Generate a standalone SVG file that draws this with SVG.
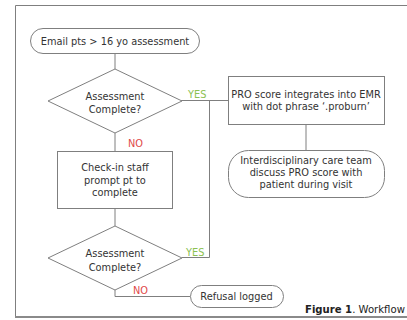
<svg xmlns="http://www.w3.org/2000/svg" width="407" height="320" viewBox="0 0 407 320">
<style>
.s{fill:#fff;stroke:#7f7f7f;stroke-width:1}
.c{fill:none;stroke:#7f7f7f;stroke-width:1}
.t{font-family:"DejaVu Sans",sans-serif;font-size:9.8px;fill:#333;text-anchor:middle}
.y{font-family:"DejaVu Sans",sans-serif;font-size:9.8px;fill:#8cc152}
.n{font-family:"DejaVu Sans",sans-serif;font-size:9.8px;fill:#e04848}
</style>
<rect x="0" y="0" width="407" height="320" fill="#fff"/>
<g id="frame">
<path d="M15.5 317 V5.5 H407" class="c"/>
<line x1="15" y1="317" x2="407" y2="317" stroke="#8a8a8a" stroke-width="2"/>
</g>
<g id="connectors">
<line x1="115" y1="53" x2="115" y2="69" class="c"/>
<line x1="115" y1="133" x2="115" y2="151" class="c"/>
<line x1="115" y1="208" x2="115" y2="226" class="c"/>
<polyline points="181,100.5 228,100.5" class="c"/>
<polyline points="182,257.5 209.5,257.5 209.5,100.5" class="c"/>
<line x1="306" y1="124" x2="306" y2="150" class="c"/>
<polyline points="115,290 115,296.5 190,296.5" class="c"/>
<text x="188" y="98" class="y">YES</text>
<text x="186" y="256" class="y">YES</text>
<text x="128" y="147" class="n">NO</text>
<text x="133" y="294" class="n">NO</text>
</g>
<g id="start">
<rect x="30.5" y="28.5" width="169" height="25" rx="12.5" class="s"/>
<text x="115" y="44.5" class="t">Email pts &gt; 16 yo assessment</text>
</g>
<g id="decision1">
<polygon points="115,69 182,101 115,133 48,101" class="s"/>
<text x="115" y="100" class="t">Assessment</text>
<text x="115" y="113" class="t">Complete?</text>
</g>
<g id="checkin">
<rect x="57.5" y="151.5" width="115" height="57" class="s"/>
<text x="115" y="170.5" class="t">Check-in staff</text>
<text x="115" y="183.5" class="t">prompt pt to</text>
<text x="115" y="196" class="t">complete</text>
</g>
<g id="decision2">
<polygon points="115,226 182,258 115,290 48,258" class="s"/>
<text x="115" y="257" class="t">Assessment</text>
<text x="115" y="270.5" class="t">Complete?</text>
</g>
<g id="pro">
<rect x="228.5" y="76.5" width="156" height="48" class="s"/>
<text x="306" y="97.5" class="t">PRO score integrates into EMR</text>
<text x="306" y="110" class="t">with dot phrase ‘.proburn’</text>
</g>
<g id="team">
<rect x="228.5" y="150.5" width="156" height="47" rx="20" class="s"/>
<text x="306" y="164" class="t">Interdisciplinary care team</text>
<text x="306" y="176" class="t">discuss PRO score with</text>
<text x="306" y="188" class="t">patient during visit</text>
</g>
<g id="refusal">
<rect x="190.5" y="285.5" width="93" height="22" rx="11" class="s"/>
<text x="236.5" y="300" class="t">Refusal logged</text>
</g>
<g id="caption">
<text x="305" y="312.5" font-family="DejaVu Sans,sans-serif" font-size="10.1px" fill="#222"><tspan font-weight="bold">Figure 1</tspan>. Workflow</text>
</g>
</svg>
